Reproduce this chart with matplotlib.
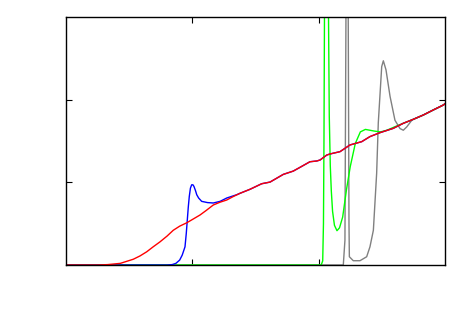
import matplotlib
matplotlib.use('Agg')
import matplotlib.pyplot as plt

# valores (unidades de datos, ejes 0..3)
red_x = [0.0, 0.25, 0.33, 0.43, 0.533, 0.586, 0.639, 0.69, 0.744, 0.80, 0.849, 0.90, 0.955,
         1.0, 1.061, 1.11, 1.166, 1.22, 1.272, 1.32, 1.377,
         1.457, 1.549, 1.615, 1.720, 1.799, 1.852, 1.931, 1.985, 2.011, 2.064, 2.090, 2.169,
         2.248, 2.341, 2.406, 2.486, 2.591, 2.670, 2.749, 2.828, 2.907, 2.987, 3.0]
red_y = [0.0, 0.0, 0.005, 0.02, 0.07, 0.11, 0.16, 0.22, 0.28, 0.35, 0.42, 0.47, 0.51,
         0.55, 0.605, 0.66, 0.726, 0.76, 0.786, 0.825, 0.867,
         0.916, 0.983, 1.003, 1.096, 1.136, 1.181, 1.249, 1.258, 1.270, 1.330, 1.343, 1.371,
         1.452, 1.492, 1.553, 1.601, 1.653, 1.714, 1.762, 1.814, 1.875, 1.935, 1.95]

blue_x = [0.0, 0.80, 0.84, 0.87, 0.90, 0.92, 0.942, 0.952, 0.96, 0.968, 0.976, 0.985, 0.995,
          1.005, 1.013, 1.025, 1.035, 1.05, 1.074, 1.12, 1.166, 1.22, 1.272, 1.351]
blue_y = [0.0, 0.0, 0.005, 0.02, 0.06, 0.12, 0.22, 0.38, 0.54, 0.70, 0.83, 0.93, 0.97,
          0.97, 0.95, 0.90, 0.85, 0.81, 0.77, 0.755, 0.75, 0.77, 0.81, 0.85]

green_x = [0.0, 2.02, 2.032, 2.038, 2.042, 2.046, 2.055, 2.07, 2.078, 2.084, 2.092, 2.10,
           2.11, 2.125, 2.145, 2.165, 2.19, 2.22, 2.25, 2.29, 2.33, 2.37, 2.44, 2.49, 2.54,
           2.60]
green_y = [0.0, 0.0, 0.05, 0.5, 1.5, 3.0, 5.5, 5.5, 3.0, 1.8, 1.2, 0.9,
           0.65, 0.48, 0.415, 0.45, 0.58, 0.91, 1.19, 1.47, 1.61, 1.64, 1.62, 1.61, 1.63,
           1.67]

gray_x = [0.0, 2.195, 2.208, 2.216, 2.225, 2.234, 2.24, 2.243, 2.274, 2.327, 2.38, 2.406,
          2.433, 2.459, 2.472, 2.499, 2.512, 2.533, 2.565, 2.604, 2.644, 2.670, 2.697, 2.737]
gray_y = [0.0, 0.0, 0.3, 3.0, 5.5, 3.0, 0.5, 0.10, 0.052, 0.052, 0.10, 0.22,
          0.42, 1.11, 1.72, 2.40, 2.47, 2.36, 2.04, 1.75, 1.65, 1.63, 1.67, 1.75]

fig = plt.figure(figsize=(4.72, 3.14), dpi=100)
ax = fig.add_axes([0.1398, 0.156, 0.803, 0.79])


def with_tail(xs, ys):
    # a partir del ultimo punto leido la curva coincide con la roja
    i = next(k for k, v in enumerate(red_x) if v > xs[-1])
    return xs + red_x[i:], ys + red_y[i:]


bx, by = with_tail(blue_x, blue_y)
gx, gy = with_tail(green_x, green_y)
grx, gry = with_tail(gray_x, gray_y)

ax.plot(grx, gry, color='#808080', lw=1.0)
ax.plot(gx, gy, color='#00ff00', lw=1.0)
ax.plot(bx, by, color='#0000ff', lw=1.0)
ax.plot(red_x, red_y, color='#ff0000', lw=1.0)

ax.set_xlim(0, 3)
ax.set_ylim(0, 3)
ax.set_xticks([1, 2])
ax.set_yticks([1, 2])
ax.tick_params(direction='in', length=4, width=0.8, top=True, right=True,
               labelbottom=False, labelleft=False)
for s in ax.spines.values():
    s.set_linewidth(1.0)

plt.savefig('out.png', dpi=100)
